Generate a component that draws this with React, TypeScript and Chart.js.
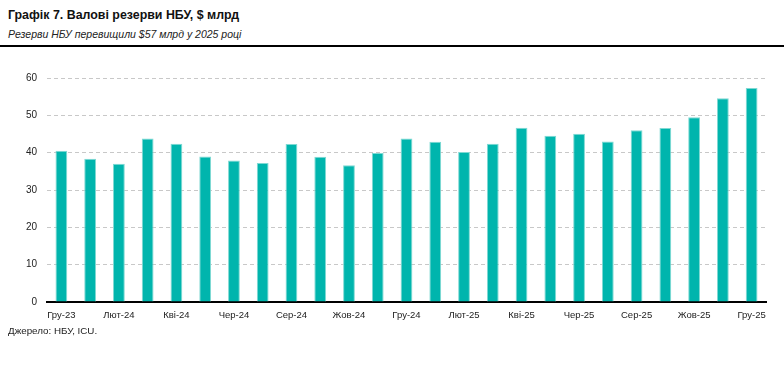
import React, { useEffect, useRef } from "react";
import { Chart, registerables } from "chart.js";

Chart.register(...registerables);

const categories = [
  "Гру-23", "Січ-24", "Лют-24", "Бер-24", "Кві-24", "Тра-24", "Чер-24", "Лип-24",
  "Сер-24", "Вер-24", "Жов-24", "Лис-24", "Гру-24", "Січ-25", "Лют-25", "Бер-25",
  "Кві-25", "Тра-25", "Чер-25", "Лип-25", "Сер-25", "Вер-25", "Жов-25", "Лис-25", "Гру-25",
];
const reserves = [
  40.5, 38.4, 37.0, 43.8, 42.4, 39.0, 37.9, 37.2, 42.3, 38.9, 36.6, 39.9,
  43.8, 42.9, 40.2, 42.4, 46.7, 44.5, 45.1, 43.0, 46.0, 46.6, 49.5, 54.6, 57.3,
];
const yTicks = [0, 10, 20, 30, 40, 50, 60];

const title = "Графік 7. Валові резерви НБУ, $ млрд";
const subtitle = "Резерви НБУ перевищили $57 млрд у 2025 році";
const source = "Джерело: НБУ, ICU.";

const FONT = '"Liberation Sans", Arial, sans-serif';

export default function App() {
  const ref = useRef<HTMLCanvasElement>(null);

  useEffect(() => {
    document.body.style.margin = "0";
    const ctx = ref.current!;
    const chart = new Chart(ctx, {
      type: "bar",
      data: {
        labels: categories,
        datasets: [
          {
            data: reserves,
            backgroundColor: "#00b5ad",
            borderColor: "#7fd9d3",
            borderWidth: 1,
            borderSkipped: "bottom",
            categoryPercentage: 1,
            barPercentage: 0.41,
          },
        ],
      },
      options: {
        animation: false,
        responsive: false,
        maintainAspectRatio: false,
        layout: { padding: { top: 28, right: 18, bottom: 0, left: 0 } },
        plugins: { legend: { display: false }, tooltip: { enabled: false } },
        scales: {
          x: {
            grid: { display: false, drawTicks: false },
            border: { display: true, color: "#000", width: 2 },
            ticks: {
              autoSkip: false,
              maxRotation: 0,
              padding: 8,
              color: "#222",
              font: { family: FONT, size: 9.5 },
              callback: (_v: any, i: number) => (i % 2 === 0 ? categories[i] : ""),
            },
            afterFit: (s: any) => { s.height = 28; },
          },
          y: {
            min: 0,
            max: 60,
            afterBuildTicks: (s: any) => { s.ticks = yTicks.map((v) => ({ value: v })); },
            grid: {
              drawTicks: false,
              color: (c: any) => (c.tick && c.tick.value === 0 ? "rgba(0,0,0,0)" : "#c8c8c8"),
              lineWidth: 1,
            },
            border: { display: false, dash: [4, 3] },
            ticks: {
              padding: 10,
              color: "#222",
              font: { family: FONT, size: 10 },
            },
            afterFit: (s: any) => { s.width = 47; },
          },
        },
      },
    });
    return () => chart.destroy();
  }, []);

  return (
    <div style={{ position: "relative", width: 784, height: 367, background: "#fff", overflow: "hidden" }}>
      <div style={{ position: "absolute", left: 8, top: 8, fontFamily: FONT, fontWeight: "bold", fontSize: 12.4, lineHeight: "14px", color: "#111", whiteSpace: "nowrap" }}>
        {title}
      </div>
      <div style={{ position: "absolute", left: 8, top: 28, fontFamily: FONT, fontStyle: "italic", fontSize: 10.5, lineHeight: "12px", color: "#222", whiteSpace: "nowrap" }}>
        {subtitle}
      </div>
      <div style={{ position: "absolute", left: 0, top: 45, width: 784, height: 2, background: "#000" }} />
      <canvas ref={ref} width={784} height={280} style={{ position: "absolute", left: 0, top: 50 }} />
      <div style={{ position: "absolute", left: 8, top: 325, fontFamily: FONT, fontSize: 9.8, lineHeight: "12px", color: "#222", whiteSpace: "nowrap" }}>
        {source}
      </div>
    </div>
  );
}
